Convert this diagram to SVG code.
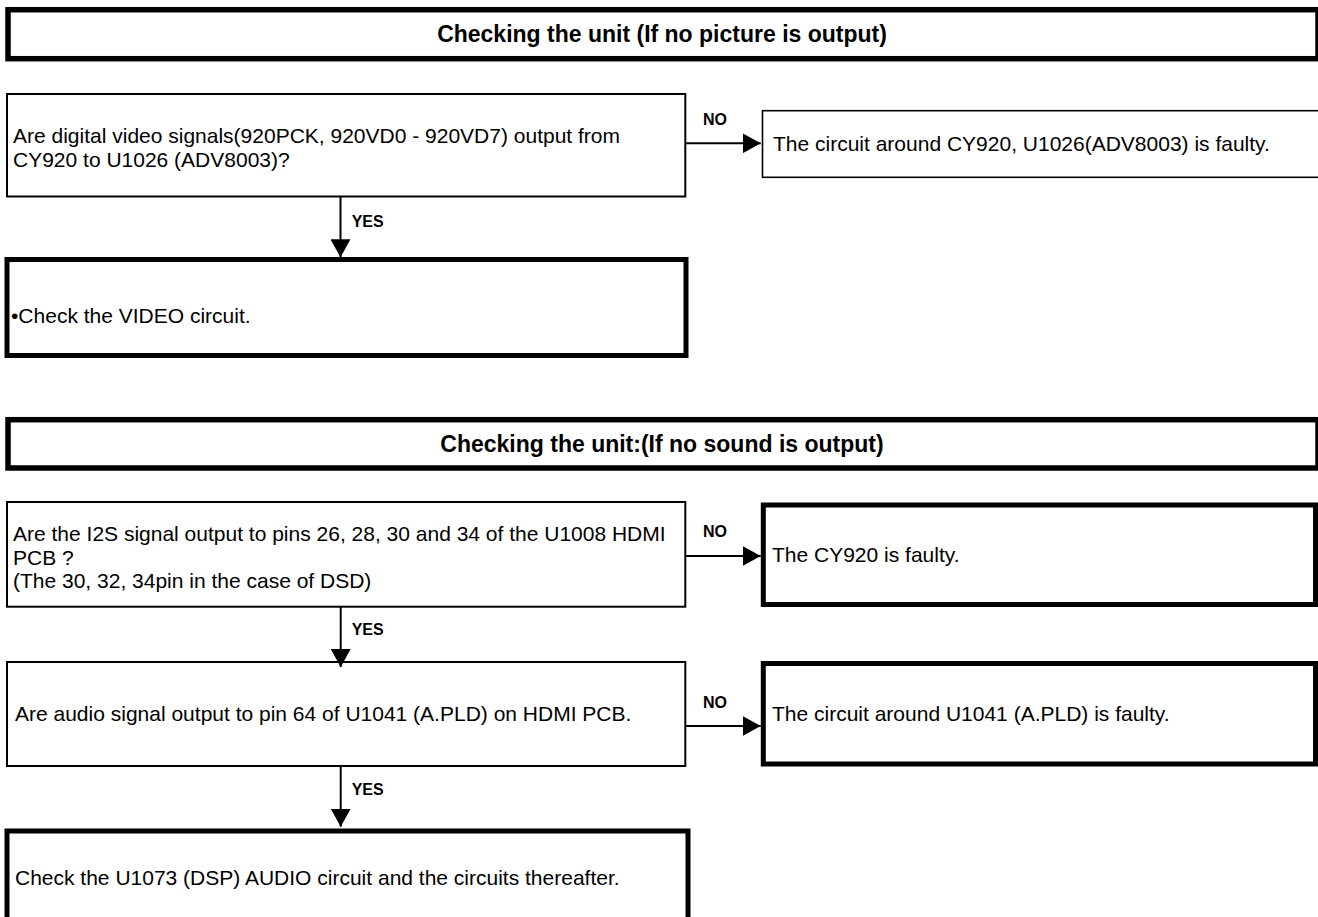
<svg xmlns="http://www.w3.org/2000/svg" width="1318" height="917" viewBox="0 0 1318 917">
  <style>
    .bg { fill: #ffffff; }
    .title { fill: #ffffff; stroke: #000000; stroke-width: 5.5; }
    .q { fill: #ffffff; stroke: #000000; stroke-width: 2; }
    .r { fill: #ffffff; stroke: #000000; stroke-width: 1.6; }
    .rt { fill: #ffffff; stroke: #000000; stroke-width: 5; }
    .t { font-family: "Liberation Sans", Arial, sans-serif; font-size: 21px; fill: #000000; }
    .tt { font-family: "Liberation Sans", Arial, sans-serif; font-size: 23px; font-weight: bold; fill: #000000; text-anchor: middle; }
    .lb { font-family: "Liberation Sans", Arial, sans-serif; font-size: 16px; font-weight: bold; fill: #000000; }
    .c { stroke: #000000; stroke-width: 2; fill: none; marker-end: url(#ah); }
  </style>
  <defs>
    <marker id="ah" markerUnits="userSpaceOnUse" markerWidth="18" markerHeight="20" refX="18" refY="10" orient="auto">
      <path d="M0,0 L18,10 L0,20 Z" fill="#000000"/>
    </marker>
  </defs>
  <rect class="bg" x="0" y="0" width="1318" height="917"/>

  <g id="title1">
    <rect class="title" x="8" y="9.7" width="1310" height="49"/>
    <text class="tt" x="662" y="42">Checking the unit (If no picture is output)</text>
  </g>

  <g id="q1">
    <rect class="q" x="7" y="94" width="678.3" height="102.5"/>
    <text class="t" x="13" y="143">Are digital video signals(920PCK, 920VD0 - 920VD7) output from</text>
    <text class="t" x="13" y="167">CY920 to U1026 (ADV8003)?</text>
  </g>

  <g id="r1">
    <rect class="r" x="762.5" y="110.7" width="570" height="66.6"/>
    <text class="t" x="773" y="151">The circuit around CY920, U1026(ADV8003) is faulty.</text>
  </g>

  <g id="video">
    <rect class="rt" x="7" y="259.5" width="679" height="96"/>
    <text class="t" x="11" y="323">•Check the VIDEO circuit.</text>
  </g>

  <g id="title2">
    <rect class="title" x="8" y="419.7" width="1310" height="48.3"/>
    <text class="tt" x="662" y="452">Checking the unit:(If no sound is output)</text>
  </g>

  <g id="q2">
    <rect class="q" x="7" y="502" width="678.3" height="104.7"/>
    <text class="t" x="13" y="541">Are the I2S signal output to pins 26, 28, 30 and 34 of the U1008 HDMI</text>
    <text class="t" x="13" y="564.5">PCB ?</text>
    <text class="t" x="13" y="588">(The 30, 32, 34pin in the case of DSD)</text>
  </g>

  <g id="r2">
    <rect class="rt" x="763.3" y="505" width="552.2" height="99.5"/>
    <text class="t" x="772" y="562">The CY920 is faulty.</text>
  </g>

  <g id="q3">
    <rect class="q" x="7" y="662" width="678.3" height="104"/>
    <text class="t" x="15" y="721">Are audio signal output to pin 64 of U1041 (A.PLD) on HDMI PCB.</text>
  </g>

  <g id="r3">
    <rect class="rt" x="763.3" y="663.5" width="552.2" height="100.5"/>
    <text class="t" x="772" y="721">The circuit around U1041 (A.PLD) is faulty.</text>
  </g>

  <g id="final">
    <rect class="rt" x="7" y="831" width="681" height="120"/>
    <text class="t" x="15" y="885">Check the U1073 (DSP) AUDIO circuit and the circuits thereafter.</text>
  </g>

  <g id="connectors">
    <line class="c" x1="685.3" y1="143.3" x2="760.7" y2="143.3"/>
    <text class="lb" x="703" y="125">NO</text>
    <line class="c" x1="340.5" y1="196.5" x2="340.5" y2="257.3"/>
    <text class="lb" x="351.7" y="227">YES</text>
    <line class="c" x1="685.3" y1="556" x2="760.7" y2="556"/>
    <text class="lb" x="703" y="537">NO</text>
    <line class="c" x1="340.7" y1="606.7" x2="340.7" y2="667"/>
    <text class="lb" x="351.7" y="635">YES</text>
    <line class="c" x1="685.3" y1="726" x2="760.7" y2="726"/>
    <text class="lb" x="703" y="708">NO</text>
    <line class="c" x1="340.7" y1="766" x2="340.7" y2="826.7"/>
    <text class="lb" x="351.7" y="795">YES</text>
  </g>
</svg>
